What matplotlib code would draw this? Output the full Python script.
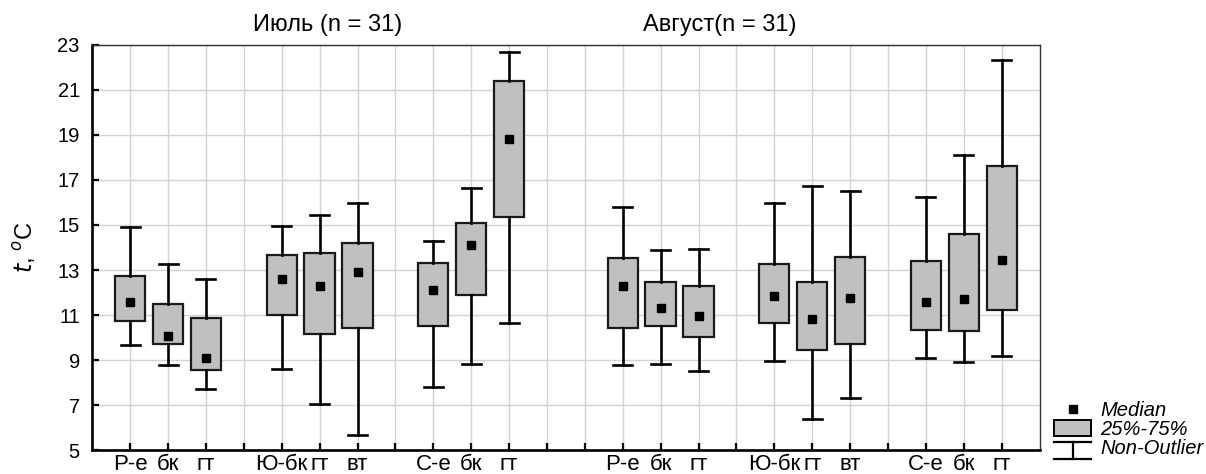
import matplotlib
matplotlib.use("Agg")
import matplotlib.pyplot as plt
from matplotlib.lines import Line2D
from matplotlib.patches import Patch
from matplotlib.legend_handler import HandlerBase

plt.rcParams['font.family'] = ['Liberation Sans', 'DejaVu Sans']

# box order inside each month: Р-е бк гт | Ю-бк гт вт | С-е бк гт
box_labels = ["Р-е", "бк", "гт", "Ю-бк", "гт", "вт", "С-е", "бк", "гт"]
months = ["Июль (n = 31)", "Август(n = 31)"]

jul_whislo = [9.65, 8.76, 7.72, 8.58, 7.05, 5.65, 7.78, 8.81, 10.65]
jul_q1 = [10.72, 9.73, 8.57, 10.98, 10.17, 10.44, 10.49, 11.87, 15.37]
jul_med = [11.56, 10.07, 9.07, 12.58, 12.30, 12.91, 12.09, 14.13, 18.83]
jul_q3 = [12.75, 11.51, 10.87, 13.65, 13.77, 14.22, 13.30, 15.11, 21.39]
jul_whishi = [14.89, 13.25, 12.61, 14.96, 15.45, 15.99, 14.31, 16.63, 22.71]

aug_whislo = [8.80, 8.83, 8.49, 8.96, 6.38, 7.32, 9.10, 8.92, 9.16]
aug_q1 = [10.44, 10.50, 10.03, 10.65, 9.44, 9.71, 10.35, 10.29, 11.21]
aug_med = [12.28, 11.33, 10.95, 11.83, 10.83, 11.76, 11.57, 11.70, 13.46]
aug_q3 = [13.54, 12.45, 12.30, 13.25, 12.45, 13.58, 13.42, 14.58, 17.63]
aug_whishi = [15.79, 13.87, 13.94, 15.97, 16.74, 16.49, 16.25, 18.10, 22.34]

jul_pos = [1, 2, 3, 5, 6, 7, 9, 10, 11]
aug_pos = [14, 15, 16, 18, 19, 20, 22, 23, 24]


def make_stats(lo, q1, med, q3, hi):
    return [dict(whislo=a, q1=b, med=c, q3=d, whishi=e, fliers=[])
            for a, b, c, d, e in zip(lo, q1, med, q3, hi)]


class WhiskerHandler(HandlerBase):
    # I-beam glyph for the non-outlier range entry
    def create_artists(self, legend, orig_handle, xd, yd, width, height, fontsize, trans):
        x0, x1 = -xd, -xd + width
        xm = (x0 + x1) / 2
        y0, y1 = -yd - 0.3 * height, -yd + 0.85 * height
        kw = dict(color='black', lw=1.6, transform=trans)
        return [Line2D([x0, x1], [y1, y1], **kw),
                Line2D([xm, xm], [y0, y1], **kw),
                Line2D([x0, x1], [y0, y0], **kw)]


fig = plt.figure(figsize=(12.06, 4.74), dpi=100)
ax = fig.add_axes([0.0765, 0.0506, 0.7855, 0.8545])

box_kw = dict(widths=0.8, patch_artist=True, showfliers=False,
              boxprops=dict(facecolor='#c0c0c0', edgecolor='#1a1a1a', linewidth=1.6),
              whiskerprops=dict(color='black', linewidth=1.9),
              capprops=dict(color='black', linewidth=1.9),
              medianprops=dict(linestyle='none'))
for stats, pos in [(make_stats(jul_whislo, jul_q1, jul_med, jul_q3, jul_whishi), jul_pos),
                   (make_stats(aug_whislo, aug_q1, aug_med, aug_q3, aug_whishi), aug_pos)]:
    ax.bxp(stats, positions=pos, capwidths=0.5, **box_kw)

ax.plot(jul_pos, jul_med, 's', color='black', ms=5.5, zorder=5)
ax.plot(aug_pos, aug_med, 's', color='black', ms=5.5, zorder=5)

ax.set_xlim(0, 25)
ax.set_ylim(5, 23)
ax.set_yticks(range(5, 24, 2))
ax.xaxis.remove_overlapping_locs = False
ax.set_xticks(range(1, 25))
ax.set_xticklabels([""] * 24)
ax.set_xticks(jul_pos + aug_pos, labels=box_labels + box_labels, minor=True)
ax.tick_params(axis='x', which='minor', length=0, labelsize=16, pad=3)
ax.tick_params(axis='x', which='major', direction='in', length=5, width=1.6)
ax.tick_params(axis='y', direction='in', length=5, width=1.6, labelsize=14.5, pad=9)
ax.grid(True, which='major', color='#d2d2d2', linewidth=1)
ax.set_axisbelow(True)

for side in ['left', 'bottom']:
    ax.spines[side].set_linewidth(1.9)
    ax.spines[side].set_color('black')
for side in ['top', 'right']:
    ax.spines[side].set_linewidth(1.0)
    ax.spines[side].set_color('#303030')

ax.set_ylabel(r'$t$, $^{o}$C', fontsize=17, labelpad=14)

ax.text(6.2, 23.9, months[0], ha='center', va='center', fontsize=17)
ax.text(16.55, 23.9, months[1], ha='center', va='center', fontsize=17)

handles = [Line2D([], [], marker='s', color='black', linestyle='none', ms=5.5),
           Patch(facecolor='#c0c0c0', edgecolor='black', linewidth=1.4),
           object()]
fig.legend(handles, ['Median', '25%-75%', 'Non-Outlier'],
           handler_map={object: WhiskerHandler()},
           loc='lower left', bbox_to_anchor=(0.864, 0.008),
           frameon=False, prop=dict(style='italic', size=14.5),
           handlelength=1.85, handleheight=0.8, handletextpad=0.45,
           labelspacing=0.0, borderpad=0.1)

fig.savefig('out.png', dpi=100)
